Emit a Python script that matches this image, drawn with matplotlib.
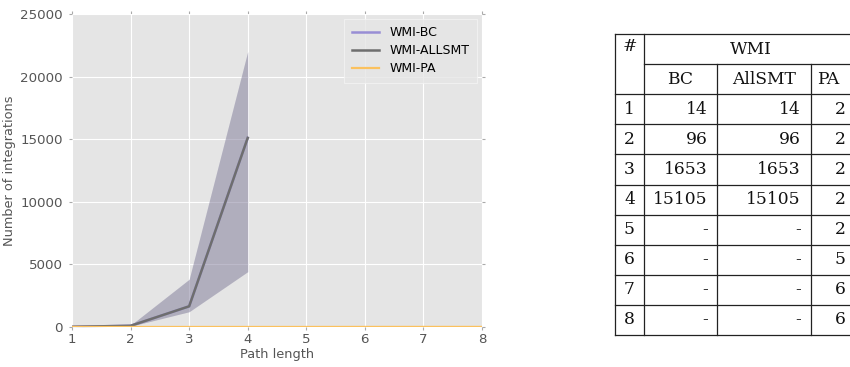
import numpy as np
import matplotlib
matplotlib.use("Agg")
import matplotlib.pyplot as plt

# path lengths and number of integrations per method
path_length = [1, 2, 3, 4, 5, 6, 7, 8]
bc_mean = [14, 96, 1653, 15105]
bc_low = [10, 60, 1220, 4420]
bc_high = [18, 140, 3810, 22000]
allsmt_mean = [14, 96, 1653, 15105]
allsmt_low = [10, 60, 1220, 4420]
allsmt_high = [18, 140, 3810, 22000]
pa_mean = [2, 2, 2, 2, 2, 5, 6, 6]

# table contents
table_rows = ["1", "2", "3", "4", "5", "6", "7", "8"]
table_bc = ["14", "96", "1653", "15105", "-", "-", "-", "-"]
table_allsmt = ["14", "96", "1653", "15105", "-", "-", "-", "-"]
table_pa = ["2", "2", "2", "2", "2", "5", "6", "6"]

c_bc = "#988ED5"
c_all = "#6E6E6E"
c_pa = "#FBC15E"

fig = plt.figure(figsize=(8.5, 3.67), dpi=100)
W, H = 850, 367
ax = fig.add_axes([72 / W, 40 / H, 410 / W, 313 / H])
ax.set_facecolor("#E5E5E5")
for s in ax.spines.values():
    s.set_visible(False)
ax.grid(True, color="white", linewidth=0.8)
ax.set_axisbelow(True)

n = len(bc_mean)
x4 = path_length[:n]
ax.fill_between(x4, bc_low, bc_high, color=c_bc, alpha=0.3, linewidth=0)
ax.fill_between(x4, allsmt_low, allsmt_high, color=c_all, alpha=0.3, linewidth=0)
ax.plot(x4, bc_mean, color=c_bc, linewidth=1.8, label="WMI-BC")
ax.plot(x4, allsmt_mean, color=c_all, linewidth=1.8, label="WMI-ALLSMT")
ax.plot(path_length, pa_mean, color=c_pa, linewidth=1.6, label="WMI-PA")

ax.set_xlim(1, 8)
ax.set_ylim(0, 25000)
ax.set_xticks(path_length)
ax.set_yticks(np.arange(0, 25001, 5000))
ax.tick_params(direction="out", top=True, right=True, length=2.5, width=0.8,
               color="#AAAAAA", labelcolor="#555555", labelsize=9.6, pad=4)
ax.tick_params(axis="x", pad=2)
ax.set_xlabel("Path length", color="#555555", fontsize=9.3, labelpad=1)
ax.set_ylabel("Number of integrations", color="#555555", fontsize=9.3, labelpad=3)

leg = ax.legend(loc="upper right", fontsize=9, frameon=True, fancybox=False,
                handlelength=2.2, borderpad=0.6, labelspacing=0.4,
                borderaxespad=0.4, bbox_to_anchor=(1.0, 1.0))
leg.get_frame().set_facecolor("#E5E5E5")
leg.get_frame().set_edgecolor("#F4F4F4")
leg.get_frame().set_linewidth(0.8)

# table drawn in pixel coordinates on an overlay axes
tb = fig.add_axes([0, 0, 1, 1])
tb.set_xlim(0, W)
tb.set_ylim(H, 0)
tb.axis("off")

left, c1, c2, c3, right = 615, 644, 717, 811, 858
top, row_h = 34, 30.1
n_rows = 2 + len(table_rows)
bottom = top + n_rows * row_h
lw = 0.9
lc = "#222222"

tb.plot([left, right], [top, top], color=lc, lw=lw)
tb.plot([c1, right], [top + row_h, top + row_h], color=lc, lw=lw)
for i in range(2, n_rows + 1):
    y = top + i * row_h
    tb.plot([left, right], [y, y], color=lc, lw=lw)
tb.plot([left, left], [top, bottom], color=lc, lw=lw)
tb.plot([c1, c1], [top, bottom], color=lc, lw=lw)
tb.plot([c2, c2], [top + row_h, bottom], color=lc, lw=lw)
tb.plot([c3, c3], [top + row_h, bottom], color=lc, lw=lw)

fnt = dict(family="DejaVu Serif", fontsize=12.3, color="#111111", va="center")
tb.text((left + c1) / 2, top + row_h / 2 - 3, "#", ha="center", **fnt)
tb.text((c1 + right) / 2, top + row_h / 2, "WMI", ha="center", **fnt)
tb.text((c1 + c2) / 2, top + 1.5 * row_h, "BC", ha="center", **fnt)
tb.text((c2 + c3) / 2, top + 1.5 * row_h, "AllSMT", ha="center", **fnt)
tb.text(c3 + 6, top + 1.5 * row_h, "PA", ha="left", **fnt)
for i, r in enumerate(table_rows):
    y = top + (2.5 + i) * row_h
    tb.text((left + c1) / 2, y, r, ha="center", **fnt)
    tb.text(c2 - 9, y, table_bc[i], ha="right", **fnt)
    tb.text(c3 - 10, y, table_allsmt[i], ha="right", **fnt)
    tb.text(right - 12, y, table_pa[i], ha="right", **fnt)

fig.savefig("out.png", dpi=100)
